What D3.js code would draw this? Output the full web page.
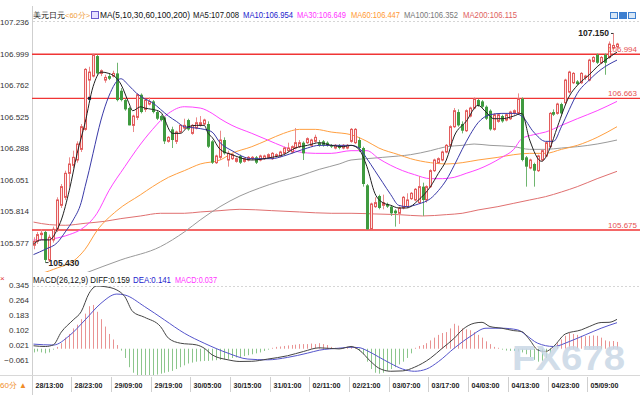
<!DOCTYPE html>
<html><head><meta charset="utf-8">
<script src="https://cdn.jsdelivr.net/npm/d3@7"></script>
<style>body{margin:0;background:#fff}svg{display:block}text{font-family:"Liberation Sans",Arial,sans-serif}</style>
</head><body><svg id="c" width="640" height="400"></svg>
<script>
// ---------- DATA ----------
const opens=[105.56,105.59,105.64,105.66,105.45,105.60,105.68,105.86,105.92,106.10,
106.16,106.20,106.28,106.43,106.80,106.83,106.98,106.85,106.80,106.83,
106.83,106.85,106.72,106.65,106.59,106.46,106.52,106.69,106.58,106.62,
106.64,106.56,106.53,106.52,106.34,106.43,106.34,106.41,106.44,106.50,
106.40,106.44,106.46,106.47,106.47,106.34,106.18,106.22,106.35,106.20,
106.21,106.19,106.23,106.19,106.20,106.21,106.22,106.20,106.21,106.22,
106.21,106.23,106.23,106.25,106.27,106.26,106.29,106.30,106.33,106.33,
106.31,106.34,106.33,106.34,106.33,106.31,106.29,106.31,106.29,106.29,
106.34,106.33,106.35,106.29,106.01,105.68,105.85,105.93,105.86,105.87,
105.85,105.82,105.80,105.84,105.85,105.91,105.90,105.88,106.00,105.90,
106.00,106.12,106.18,106.20,106.26,106.31,106.45,106.56,106.47,106.42,
106.53,106.59,106.65,106.64,106.60,106.57,106.43,106.49,106.53,106.50,
106.51,106.55,106.55,106.66,106.22,106.14,106.17,106.12,106.20,106.23,
106.30,106.56,106.55,106.62,106.63,106.71,106.78,106.79,106.78,106.82,
106.80,106.94,106.99,106.93,106.99,106.97,107.04,107.05];
const highs=[105.62,105.66,105.68,105.67,105.64,105.70,105.92,106.02,106.12,106.22,
106.27,106.34,106.47,106.89,106.90,107.00,106.99,106.88,106.84,106.85,
106.87,106.93,106.74,106.66,106.60,106.54,106.70,106.70,106.66,106.67,
106.65,106.57,106.54,106.53,106.38,106.45,106.42,106.47,106.51,106.51,
106.47,106.52,106.53,106.51,106.49,106.35,106.24,106.42,106.37,106.27,
106.25,106.22,106.24,106.22,106.23,106.23,106.23,106.24,106.24,106.25,
106.26,106.25,106.27,106.30,106.33,106.31,106.44,106.35,106.34,106.37,
106.36,106.39,106.35,106.35,106.34,106.32,106.32,106.32,106.32,106.32,
106.44,106.44,106.37,106.30,106.02,105.88,105.92,105.94,105.94,105.88,
105.86,105.83,105.85,105.93,105.95,105.96,105.99,106.08,106.03,106.01,
106.13,106.21,106.22,106.27,106.32,106.46,106.59,106.58,106.49,106.58,
106.60,106.67,106.66,106.65,106.61,106.58,106.55,106.55,106.54,106.55,
106.57,106.58,106.70,106.67,106.23,106.21,106.18,106.24,106.28,106.34,
106.56,106.58,106.63,106.63,106.81,106.87,106.86,106.80,106.86,106.84,
106.96,106.98,107.00,106.98,107.00,107.09,107.15,107.08];
const lows=[105.53,105.57,105.60,105.43,105.44,105.58,105.66,105.84,105.90,106.00,
106.14,106.18,106.26,106.42,106.66,106.82,106.84,106.83,106.78,106.80,
106.82,106.64,106.64,106.57,106.46,106.41,106.50,106.55,106.56,106.61,
106.55,106.50,106.49,106.32,106.33,106.29,106.32,106.40,106.43,106.42,
106.39,106.43,106.45,106.46,106.29,106.17,106.17,106.20,106.24,106.15,
106.20,106.18,106.17,106.18,106.19,106.20,106.17,106.19,106.20,106.21,
106.20,106.22,106.22,106.24,106.26,106.25,106.28,106.29,106.20,106.32,
106.30,106.33,106.30,106.30,106.30,106.29,106.28,106.28,106.28,106.28,
106.33,106.32,106.26,106.00,105.675,105.675,105.84,105.83,105.83,105.84,
105.78,105.70,105.72,105.83,105.84,105.90,105.89,105.87,105.78,105.88,
105.99,106.11,106.17,106.19,106.25,106.30,106.44,106.45,106.40,106.41,
106.52,106.58,106.60,106.59,106.50,106.42,106.42,106.48,106.48,106.49,
106.50,106.54,106.54,106.19,106.00,106.13,106.00,106.11,106.19,106.22,
106.29,106.53,106.54,106.54,106.62,106.70,106.77,106.76,106.77,106.80,
106.79,106.93,106.92,106.92,106.84,106.96,107.03,107.04];
const closes=[105.59,105.64,105.65,105.45,105.62,105.68,105.90,106.00,106.10,106.17,
106.22,106.32,106.45,106.88,106.86,106.99,106.85,106.87,106.82,106.81,
106.85,106.65,106.65,106.58,106.46,106.53,106.69,106.56,106.65,106.64,
106.56,106.51,106.50,106.34,106.37,106.35,106.41,106.46,106.46,106.43,
106.46,106.48,106.48,106.50,106.30,106.18,106.23,106.35,106.25,106.25,
106.24,106.21,106.18,106.21,106.22,106.22,106.18,106.23,106.23,106.24,
106.25,106.24,106.26,106.29,106.29,106.30,106.33,106.33,106.25,106.36,
106.35,106.37,106.31,106.31,106.31,106.30,106.31,106.29,106.31,106.31,
106.43,106.43,106.29,106.02,105.68,105.87,105.88,105.84,105.88,105.85,
105.80,105.80,105.84,105.92,105.90,105.95,105.98,106.00,105.90,106.00,
106.12,106.20,106.21,106.26,106.31,106.45,106.57,106.46,106.42,106.57,
106.59,106.66,106.61,106.60,106.51,106.43,106.54,106.54,106.49,106.54,
106.56,106.57,106.66,106.20,106.15,106.20,106.12,106.23,106.27,106.33,
106.55,106.54,106.62,106.55,106.80,106.86,106.85,106.77,106.85,106.83,
106.95,106.97,106.93,106.97,106.93,107.07,107.06,107.07];

const ma5=[[0,105.57],[2,105.60],[4,105.60],[6,105.68],[7,105.75],[9,105.97],[11,106.25],[13,106.48],[15,106.75],[17,106.86],[19,106.85],[22,106.77],[24,106.63],[25,106.57],[27,106.60],[28,106.59],[30,106.58],[32,106.56],[35,106.40],[37,106.40],[39,106.45],[41,106.46],[43,106.46],[44,106.40],[45,106.37],[47,106.28],[50,106.24],[55,106.20],[60,106.22],[63,106.24],[66,106.29],[69,106.31],[72,106.33],[75,106.31],[78,106.30],[80,106.31],[82,106.28],[84,106.15],[86,105.95],[88,105.88],[90,105.86],[92,105.84],[94,105.84],[97,105.90],[100,106.00],[102,106.10],[104,106.20],[106,106.38],[109,106.49],[112,106.61],[114,106.56],[116,106.51],[118,106.51],[121,106.53],[123,106.55],[125,106.35],[128,106.19],[130,106.28],[132,106.45],[135,106.68],[137,106.76],[140,106.84],[142,106.90],[145,106.97],[147,107.01]];
const ma10=[[0,105.49],[3,105.53],[6,105.58],[8,105.66],[10,105.75],[12,105.88],[13,106.00],[14,106.12],[15,106.25],[17,106.50],[19,106.68],[22,106.81],[24,106.76],[26,106.70],[28,106.66],[30,106.63],[32,106.58],[34,106.53],[36,106.49],[38,106.45],[41,106.44],[43,106.43],[45,106.41],[47,106.33],[50,106.27],[55,106.21],[60,106.21],[63,106.23],[66,106.26],[69,106.29],[72,106.31],[75,106.31],[80,106.31],[82,106.29],[84,106.21],[86,106.12],[88,106.03],[90,105.94],[92,105.86],[94,105.85],[97,105.87],[100,105.91],[102,105.97],[104,106.05],[106,106.16],[108,106.28],[110,106.39],[112,106.48],[115,106.54],[118,106.55],[121,106.55],[123,106.53],[126,106.41],[129,106.34],[131,106.34],[133,106.45],[135,106.58],[137,106.70],[140,106.80],[143,106.88],[147,106.95]];
const ma30=[[0,105.60],[5,105.61],[9,105.64],[12,105.68],[16,105.80],[19,105.97],[23,106.15],[26,106.28],[30,106.43],[34,106.55],[38,106.60],[42,106.59],[45,106.55],[47,106.51],[50,106.46],[55,106.40],[59,106.35],[63,106.30],[67,106.26],[71,106.25],[75,106.25],[80,106.27],[84,106.27],[87,106.21],[90,106.16],[93,106.12],[96,106.09],[100,106.06],[103,106.06],[106,106.07],[109,106.10],[112,106.13],[115,106.17],[118,106.22],[121,106.28],[123,106.36],[126,106.39],[129,106.41],[133,106.46],[137,106.51],[142,106.57],[147,106.64]];
const ma60=[[0,105.34],[2,105.35],[6,105.39],[10,105.44],[13,105.53],[16,105.67],[21,105.82],[27,105.94],[30,106.00],[34,106.07],[38,106.12],[42,106.17],[47,106.20],[50,106.25],[55,106.30],[59,106.35],[63,106.40],[67,106.43],[71,106.43],[75,106.41],[80,106.39],[84,106.34],[87,106.29],[92,106.24],[95,106.21],[100,106.18],[104,106.17],[108,106.18],[112,106.20],[117,106.22],[121,106.24],[125,106.25],[129,106.25],[133,106.28],[137,106.31],[142,106.37],[147,106.45]];
const ma100=[[0,105.20],[7,105.28],[13,105.35],[22,105.45],[32,105.55],[38,105.66],[42,105.75],[47,105.85],[52,105.93],[57,105.99],[62,106.04],[67,106.08],[72,106.13],[77,106.17],[80,106.20],[84,106.21],[88,106.22],[92,106.23],[95,106.24],[100,106.27],[104,106.30],[108,106.31],[111,106.32],[115,106.31],[121,106.30],[125,106.28],[129,106.28],[133,106.29],[137,106.30],[142,106.32],[147,106.35]];
const ma200=[[0,105.734],[4,105.715],[8,105.71],[13,105.725],[18,105.74],[22,105.76],[27,105.78],[32,105.80],[38,105.80],[42,105.81],[47,105.82],[52,105.83],[60,105.82],[67,105.81],[75,105.80],[80,105.80],[86,105.795],[92,105.79],[98,105.78],[104,105.79],[108,105.80],[112,105.825],[117,105.85],[121,105.875],[125,105.90],[129,105.925],[133,105.96],[137,106.00],[142,106.06],[147,106.115]];

const macdHist=[-0.02,-0.015,-0.02,-0.025,-0.02,-0.005,0.01,0.03,0.06,0.08,
0.11,0.13,0.16,0.19,0.23,0.237,0.20,0.16,0.12,0.08,
0.05,0.02,-0.01,-0.05,-0.10,-0.13,-0.145,-0.15,-0.15,-0.148,
-0.145,-0.14,-0.135,-0.13,-0.125,-0.12,-0.11,-0.10,-0.09,-0.08,
-0.075,-0.07,-0.068,-0.066,-0.066,-0.064,-0.062,-0.06,-0.058,-0.055,
-0.05,-0.047,-0.045,-0.04,-0.035,-0.03,-0.025,-0.02,-0.012,-0.005,
0.005,0.01,0.012,0.015,0.018,0.02,0.022,0.025,0.025,0.025,
0.028,0.025,0.03,0.025,0.02,0.01,0.005,0.005,0.003,0.01,
0.015,0.01,-0.01,-0.03,-0.07,-0.11,-0.13,-0.135,-0.13,-0.12,
-0.11,-0.10,-0.085,-0.07,-0.05,-0.025,0.005,0.015,0.02,0.03,
0.045,0.06,0.075,0.085,0.09,0.11,0.135,0.125,0.11,0.105,
0.10,0.09,0.075,0.06,0.04,0.025,0.01,0.005,-0.005,-0.01,
-0.012,-0.012,-0.015,-0.02,-0.03,-0.045,-0.06,-0.07,-0.065,-0.05,
-0.025,0.005,0.03,0.05,0.07,0.085,0.08,0.075,0.07,0.068,
0.07,0.072,0.07,0.06,0.045,0.04,0.042,0.037];
const diffLine=[[0,0.016],[3,0.012],[5,0.021],[7,0.09],[10,0.156],[12,0.20],[14,0.30],[16,0.34],[18,0.336],[21,0.318],[23,0.282],[25,0.201],[28,0.17],[32,0.12],[34,0.057],[37,0.03],[41,0.021],[43,0.003],[45,-0.033],[49,-0.06],[52,-0.069],[55,-0.068],[59,-0.056],[64,-0.038],[68,-0.015],[72,0.005],[77,-0.001],[80,0.012],[82,-0.006],[85,-0.07],[87,-0.105],[90,-0.122],[93,-0.12],[96,-0.10],[100,-0.051],[103,0.003],[106,0.057],[108,0.102],[111,0.138],[113,0.143],[115,0.12],[118,0.111],[121,0.098],[123,0.093],[125,0.048],[127,-0.006],[129,-0.015],[131,0.012],[134,0.08],[138,0.102],[140,0.12],[143,0.142],[145,0.143],[147,0.159]];
const deaLine=[[0,0.025],[5,0.02],[9,0.07],[13,0.156],[17,0.246],[21,0.296],[23,0.291],[28,0.228],[33,0.156],[38,0.084],[43,0.03],[49,-0.024],[54,-0.056],[59,-0.06],[64,-0.047],[69,-0.024],[72,-0.008],[77,0.003],[80,0.008],[82,0.006],[84,-0.01],[87,-0.045],[90,-0.08],[93,-0.11],[96,-0.122],[99,-0.11],[102,-0.07],[106,0.003],[110,0.066],[114,0.111],[118,0.111],[122,0.102],[124,0.075],[127,0.03],[131,0.012],[135,0.039],[139,0.075],[143,0.111],[147,0.141]];

const xLabels=["28/13:00","28/23:00","29/09:00","29/19:00","30/05:00","30/15:00","31/01:00","02/11:00","02/21:00","03/07:00","03/17:00","04/03:00","04/13:00","04/23:00","05/09:00"];
const priceTicks=[107.236,106.999,106.762,106.525,106.288,106.051,105.814,105.577];
const macdTicks=[0.345,0.264,0.183,0.102,0.021,-0.061];
const levelLines=[106.994,106.663,105.675];
const extremes=[{i:146,v:107.150,label:"107.150"},{i:3,v:105.430,label:"105.430"}];

// ---------- SCALES ----------
const svg=d3.select("#c");
const n=closes.length;
const x=d3.scaleLinear().domain([0,n-1]).range([33.5,617]);
const y=d3.scaleLinear().domain([105.577,107.236]).range([243,22]);
const ym=d3.scaleLinear().domain([-0.061,0.345]).range([360,285]);

const defs=svg.append("defs");
defs.append("clipPath").attr("id","cm").append("rect").attr("x",32).attr("y",21).attr("width",608).attr("height",251);
defs.append("clipPath").attr("id","cd").append("rect").attr("x",32).attr("y",286).attr("width",608).attr("height",89);

// frame lines
svg.append("line").attr("x1",32.5).attr("x2",32.5).attr("y1",6).attr("y2",395).attr("stroke","#cfcfcf");
svg.append("line").attr("x1",0).attr("x2",640).attr("y1",375.5).attr("y2",375.5).attr("stroke","#d8d8d8");
[21.5,286.5].forEach(v=>svg.append("line").attr("x1",33).attr("x2",640).attr("y1",v).attr("y2",v)
  .attr("stroke","#d6d6d6").attr("stroke-dasharray","2,2"));

// axes
const axL=svg.append("g").attr("transform","translate(30,0)")
  .call(d3.axisLeft(y).tickValues(priceTicks).tickFormat(d3.format(".3f")).tickSize(0));
const axM=svg.append("g").attr("transform","translate(30,0)")
  .call(d3.axisLeft(ym).tickValues(macdTicks).tickFormat(d3.format(".3f")).tickSize(0));
[axL,axM].forEach(a=>{a.select(".domain").remove();a.selectAll("text").attr("x",-1).attr("font-size","8px")
  .attr("fill","#333").attr("font-family","Liberation Sans, Arial, sans-serif");});

// main panel
const gm=svg.append("g").attr("clip-path","url(#cm)");
levelLines.forEach(v=>{
  gm.append("line").attr("x1",32).attr("x2",640).attr("y1",y(v)).attr("y2",y(v)).attr("stroke","#f03535").attr("stroke-width",1.4);
});
const line=d3.line().x(d=>x(d[0])).y(d=>y(d[1])).curve(d3.curveMonotoneX);
[[ma200,"#e07070"],[ma100,"#9a9a9a"],[ma60,"#ff9f40"],[ma30,"#ff44ff"]].forEach(([d,c])=>{
  gm.append("path").datum(d).attr("d",line).attr("fill","none").attr("stroke",c).attr("stroke-width",1);
});
const up="#e25b5b", dn="#3f9a3f";
const cg=gm.append("g");
for(let i=0;i<n;i++){
  const cx=Math.round(x(i))+0.5;
  const isUp=closes[i]>=opens[i];
  cg.append("line").attr("x1",cx).attr("x2",cx).attr("y1",y(highs[i])).attr("y2",y(lows[i]))
    .attr("stroke",isUp?"#eb8a8a":"#6fb56f").attr("stroke-width",1);
  const top=y(Math.max(opens[i],closes[i])), bot=y(Math.min(opens[i],closes[i]));
  if(isUp){
    cg.append("rect").attr("x",cx-1).attr("y",top).attr("width",2).attr("height",Math.max(1,bot-top))
      .attr("fill","#fde6e6").attr("stroke",up).attr("stroke-width",1);
  } else {
    cg.append("rect").attr("x",cx-1.5).attr("y",top).attr("width",3).attr("height",Math.max(1,bot-top))
      .attr("fill",dn);
  }
}
[[ma10,"#3a3aa8"],[ma5,"#222"]].forEach(([d,c])=>{
  gm.append("path").datum(d).attr("d",line).attr("fill","none").attr("stroke",c).attr("stroke-width",1);
});
gm.append("rect").attr("x",x(14)-1).attr("y",y(106.663)-1.5).attr("width",3).attr("height",3).attr("fill","#123");

levelLines.forEach(v=>{
  svg.append("text").attr("x",637).attr("y",y(v)-2).attr("text-anchor","end").attr("font-size","8px")
    .attr("fill","#e65050").text(v.toFixed(3));
});
extremes.forEach(e=>{
  const cx=Math.round(x(e.i))+0.5, py=y(e.v);
  if(e.i>n/2){
    svg.append("line").attr("x1",611).attr("x2",cx).attr("y1",py).attr("y2",py).attr("stroke","#333");
    svg.append("text").attr("x",609).attr("y",py+3).attr("text-anchor","end").attr("font-size","8.5px")
      .attr("font-weight","bold").attr("fill","#222").text(e.label);
  } else {
    svg.append("line").attr("x1",cx).attr("x2",cx+3).attr("y1",py).attr("y2",py).attr("stroke","#333");
    svg.append("text").attr("x",cx+3).attr("y",py+3).attr("font-size","8.5px")
      .attr("font-weight","bold").attr("fill","#222").text(e.label);
  }
});

// MACD panel
const gd=svg.append("g").attr("clip-path","url(#cd)");
const z=ym(0);
macdHist.forEach((v,i)=>{
  const cx=Math.round(x(i))+0.5;
  gd.append("line").attr("x1",cx).attr("x2",cx).attr("y1",z).attr("y2",ym(v))
    .attr("stroke",v>=0?"#e99393":"#8cc68c").attr("stroke-width",1);
});
const ml=d3.line().x(d=>x(d[0])).y(d=>ym(d[1])).curve(d3.curveMonotoneX);
gd.append("path").datum(deaLine).attr("d",ml).attr("fill","none").attr("stroke","#5555cc").attr("stroke-width",1);
gd.append("path").datum(diffLine).attr("d",ml).attr("fill","none").attr("stroke","#444").attr("stroke-width",1);

// watermark
svg.append("text").attr("x",512).attr("y",370).attr("font-size","35px").attr("font-weight","bold")
  .attr("font-family","DejaVu Sans, sans-serif").attr("fill","#c9d7e6").attr("fill-opacity",0.85)
  .attr("textLength",113).attr("lengthAdjust","spacingAndGlyphs").text("FX678");

// x axis labels
const xa=svg.append("g");
xLabels.forEach((t,k)=>{
  const px=Math.round(x(k*10))-1.5;
  xa.append("line").attr("x1",px).attr("x2",px).attr("y1",377).attr("y2",392).attr("stroke","#cfcfcf");
  xa.append("text").attr("x",px+3).attr("y",388).attr("font-size","7.5px").attr("font-weight","bold")
    .attr("fill","#222").attr("textLength",28).attr("lengthAdjust","spacingAndGlyphs").text(t);
});
svg.append("text").attr("x",0).attr("y",388).attr("font-size","8px").attr("fill","#f08c28")
  .attr("font-family","Noto Sans CJK SC").text("60分 ▲");

// legends
const mono="DejaVu Sans Mono, monospace";
function lt(xp,yp,w,t,c,fam){svg.append("text").attr("x",xp).attr("y",yp).attr("font-size","8.5px")
  .attr("font-family",fam||mono).attr("fill",c).attr("textLength",w).attr("lengthAdjust","spacingAndGlyphs").text(t);}
svg.append("text").attr("x",33).attr("y",18).attr("font-size","7.5px").attr("font-family","Noto Sans CJK SC")
  .attr("fill","#111").text("美元日元");
svg.append("text").attr("x",65).attr("y",18).attr("font-size","7.5px").attr("font-family","Noto Sans CJK SC")
  .attr("fill","#f0a040").text("<60分>");
svg.append("rect").attr("x",91.5).attr("y",11.5).attr("width",7).attr("height",7).attr("fill","#e6e0ff").attr("stroke","#6a5acd");
lt(100,18,90,"MA(5,10,30,60,100,200)","#111");
lt(193,18,46,"MA5:107.008","#111");
lt(243,18,50,"MA10:106.954","#2222cc");
lt(297,18,49,"MA30:106.649","#ff33ff");
lt(351,18,49,"MA60:106.447","#ff9933");
lt(404,18,54,"MA100:106.352","#777");
lt(463,18,54,"MA200:106.115","#e06060");
[610,619,628].forEach((px,k)=>svg.append("rect").attr("x",px+0.5).attr("y",12.5).attr("width",7).attr("height",6)
  .attr("fill",k==1?"#3d7fd0":"#d6e6f6").attr("stroke","#3d7fd0"));

lt(33,283,97,"MACD(26,12,9) DIFF:0.159","#111");
lt(133,283,38,"DEA:0.141","#2222cc");
lt(175,283,42,"MACD:0.037","#ff33ff");
svg.append("text").attr("x",0).attr("y",281).attr("font-size","8px").attr("fill","#e03030").text("×");
</script></body></html>
